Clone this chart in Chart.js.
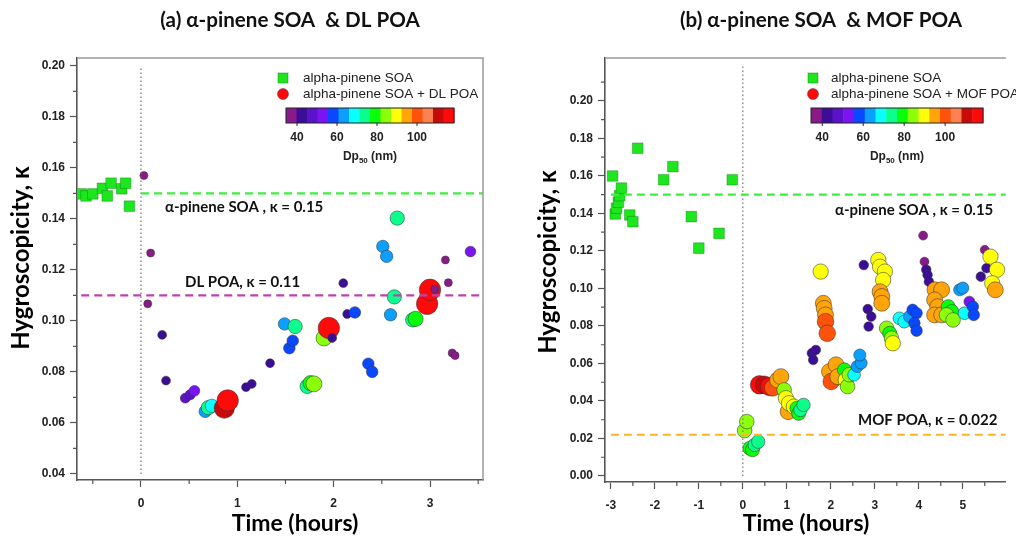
<!DOCTYPE html>
<html>
<head>
<meta charset="utf-8">
<script src="https://cdn.jsdelivr.net/npm/chart.js@4.4.0/dist/chart.umd.min.js"></script>
<style>
  html, body { margin: 0; padding: 0; background: #fff; }
  #wrap { position: relative; width: 1016px; height: 539px; overflow: hidden; }
  .panel { position: absolute; top: 0; width: 508px; height: 539px; }
</style>
</head>
<body>
<div id="wrap">
  <div class="panel" style="left:0"><canvas id="chartA" width="508" height="539"></canvas></div>
  <div class="panel" style="left:508px"><canvas id="chartB" width="508" height="539"></canvas></div>
</div>
<script>
// ─── COLOUR SCALE (Dp50, nm) ─────────────────────────
const dpPalette = ['#8a1a8a', '#3c0e98', '#5c12c8', '#7a14f2', '#0a48ff', '#0aa0ff', '#0affff', '#0aff8c',
                   '#0aff0a', '#8cff0a', '#ffff0a', '#ffa50a', '#ff520a', '#ff8050', '#c80a0a', '#ff0a0a'];
const dpMin = 34.5;
const dpMax = 118.5;
const dpTicks = [40, 60, 80, 100];

// ─── PANEL (a): alpha-pinene SOA & DL POA ────────────
const aSoaTime  = [-0.62, -0.57, -0.50, -0.40, -0.35, -0.31, -0.20, -0.16, -0.12];
const aSoaKappa = [0.1498, 0.1490, 0.1498, 0.1520, 0.1490, 0.1540, 0.1518, 0.1540, 0.1450];

const aMixTime  = [0.03, 0.10, 0.07, 0.22, 0.26, 0.46, 0.51, 0.555, 0.667, 0.70, 0.735, 0.865, 0.90,
                   1.09, 1.15, 1.34, 1.54, 1.575, 1.49, 1.60, 1.725, 1.76, 1.795, 1.90, 1.95, 1.985,
                   2.10, 2.14, 2.22, 2.36, 2.40, 2.51, 2.55, 2.66, 2.59, 2.63, 2.82, 2.85, 2.97, 3.00,
                   3.05, 3.16, 3.19, 3.23, 3.26, 3.42];
const aMixKappa = [0.1570, 0.1266, 0.1067, 0.0945, 0.0766, 0.0697, 0.0710, 0.0726, 0.0645, 0.0660, 0.0667, 0.0658, 0.0688,
                   0.0740, 0.0753, 0.0834, 0.0893, 0.0922, 0.0988, 0.0978, 0.0743, 0.0756, 0.0753, 0.0933, 0.0972, 0.0933,
                   0.1148, 0.1027, 0.1033, 0.0832, 0.0800, 0.1292, 0.1253, 0.1403, 0.1024, 0.1094, 0.1004, 0.1008, 0.1067, 0.1122,
                   0.1124, 0.1239, 0.1150, 0.0874, 0.0864, 0.1272];
const aMixDp    = [37, 37, 37, 42, 42, 48, 50, 53, 63, 74, 68, 110, 116,
                   42, 42, 42, 58, 58, 63, 74, 74, 79, 84, 84, 116, 42,
                   42, 42, 58, 58, 58, 63, 63, 74, 63, 74, 74, 79, 116, 116,
                   37, 37, 37, 37, 37, 53];

const aXTicks = [0, 1, 2, 3];
const aXMinor = [-0.5, 0.5, 1.5, 2.5, 3.5];
const aYTicks = [0.04, 0.06, 0.08, 0.10, 0.12, 0.14, 0.16, 0.18, 0.20];
const aYMinor = [0.05, 0.07, 0.09, 0.11, 0.13, 0.15, 0.17, 0.19];

// ─── PANEL (b): alpha-pinene SOA & MOF POA ───────────
const bSoaTime  = [-2.96, -2.90, -2.87, -2.83, -2.80, -2.76, -2.57, -2.50, -2.39, -1.80, -1.59, -1.17, -1.00, -0.54, -0.24];
const bSoaKappa = [0.1600, 0.1397, 0.1428, 0.1460, 0.1495, 0.1535, 0.1392, 0.1356, 0.1748, 0.1580, 0.1650, 0.1383, 0.1215, 0.1294, 0.1580];

const bMixTime  = [0.04, 0.09, 0.16, 0.22, 0.27, 0.35, 0.38, 0.49, 0.61, 0.68, 0.79, 0.865, 0.94, 0.98, 1.03, 1.05,
                   1.16, 1.23, 1.27, 1.31, 1.38, 1.57, 1.66, 1.60, 1.77, 1.83, 1.85, 1.88, 1.88, 1.92,
                   1.97, 2.01, 2.12, 2.16, 2.31, 2.34, 2.38, 2.42, 2.53, 2.60, 2.69, 2.66,
                   2.75, 2.84, 2.92, 2.86, 3.08, 3.12, 3.23, 3.19, 3.12, 3.16, 3.16, 3.27, 3.34, 3.38, 3.41,
                   3.56, 3.67, 3.79, 3.86, 3.95, 3.90, 3.95, 4.10, 4.13, 4.17, 4.20, 4.23,
                   4.37, 4.52, 4.36, 4.43, 4.36, 4.52, 4.67, 4.75, 4.63, 4.78,
                   4.93, 5.00, 5.04, 5.15, 5.23, 5.25, 5.50, 5.54, 5.41, 5.63, 5.78, 5.67, 5.74];
const bMixKappa = [0.0242, 0.0290, 0.0148, 0.0140, 0.0166, 0.0183, 0.0486, 0.0486, 0.0477, 0.0470, 0.0512, 0.0530, 0.0459, 0.0415, 0.0343, 0.0388,
                   0.0370, 0.0361, 0.0334, 0.0352, 0.0379, 0.0655, 0.0672, 0.0619, 0.1090, 0.0921, 0.0894, 0.0859, 0.0823, 0.0761,
                   0.0557, 0.0504, 0.0593, 0.0530, 0.0566, 0.0512, 0.0477, 0.0540, 0.0540, 0.0584, 0.0602, 0.0645,
                   0.1125, 0.0890, 0.0850, 0.0797, 0.1152, 0.1116, 0.1090, 0.1045, 0.0983, 0.0957, 0.0921, 0.0788, 0.0761, 0.0735, 0.0708,
                   0.0841, 0.0823, 0.0850, 0.0886, 0.0868, 0.0815, 0.0775, 0.1282, 0.1143, 0.1100, 0.1072, 0.1036,
                   0.0993, 0.0993, 0.0939, 0.0903, 0.0859, 0.0859, 0.0903, 0.0877, 0.0859, 0.0832,
                   0.0993, 0.1002, 0.0868, 0.0930, 0.0903, 0.0859, 0.1206, 0.1108, 0.1063, 0.1170, 0.1100, 0.1028, 0.0993];
const bMixDp    = [84, 84, 79, 79, 74, 74, 116, 110, 116, 100, 95, 95, 84, 90, 95, 90,
                   90, 79, 79, 74, 74, 42, 42, 42, 90, 95, 95, 95, 100, 100,
                   95, 100, 95, 95, 79, 90, 84, 84, 68, 63, 63, 63,
                   42, 42, 42, 42, 90, 90, 90, 90, 95, 95, 95, 84, 79, 84, 90,
                   68, 68, 63, 58, 58, 58, 58, 37, 37, 42, 42, 42,
                   95, 95, 95, 95, 95, 95, 79, 79, 84, 84,
                   63, 63, 68, 53, 58, 58, 37, 42, 42, 90, 90, 90, 95];

const bXTicks = [-3, -2, -1, 0, 1, 2, 3, 4, 5];
const bXMinor = [-2.5, -1.5, -0.5, 0.5, 1.5, 2.5, 3.5, 4.5, 5.5];
const bYTicks = [0.00, 0.02, 0.04, 0.06, 0.08, 0.10, 0.12, 0.14, 0.16, 0.18, 0.20];
const bYMinor = [0.01, 0.03, 0.05, 0.07, 0.09, 0.11, 0.13, 0.15, 0.17, 0.19, 0.21];

// ─── HELPERS ─────────────────────────────────────────
const TITLE_FONT = "Lato, 'Open Sans', 'DejaVu Sans', sans-serif";
const TICK_FONT  = "'Liberation Sans', Arial, sans-serif";

function dpColor(dp) {
  const step = (dpMax - dpMin) / dpPalette.length;
  const i = Math.max(0, Math.min(dpPalette.length - 1, Math.floor((dp - dpMin) / step)));
  return dpPalette[i];
}

function toPoints(xs, ys) {
  return xs.map((x, i) => ({ x: x, y: ys[i] }));
}

// decorations: frame, minor ticks, titles, notes and colour-bar legend
function makeDecor(deco) {
  return {
    id: 'panelDecor',
    afterDatasetsDraw(chart) {
      const { ctx, chartArea: a, scales: { x, y } } = chart;
      ctx.save();
      ctx.strokeStyle = '#999';
      ctx.lineWidth = 1.5;
      ctx.beginPath();
      ctx.moveTo(a.left, a.top);
      ctx.lineTo(a.right, a.top);
      if (deco.frameRight) ctx.lineTo(a.right, a.bottom);
      ctx.stroke();

      ctx.strokeStyle = '#555';
      ctx.lineWidth = 1.2;
      ctx.beginPath();
      deco.xMinor.forEach(v => {
        const px = x.getPixelForValue(v);
        ctx.moveTo(px, a.bottom);
        ctx.lineTo(px, a.bottom + 4);
      });
      deco.yMinor.forEach(v => {
        const py = y.getPixelForValue(v);
        ctx.moveTo(a.left - 4, py);
        ctx.lineTo(a.left, py);
      });
      ctx.stroke();
      ctx.restore();
    },
    afterDraw(chart) {
      const ctx = chart.ctx;
      ctx.save();
      ctx.fillStyle = '#111';
      ctx.textBaseline = 'middle';

      // panel title
      ctx.font = `bold 20.6px ${TITLE_FONT}`;
      ctx.textAlign = 'center';
      ctx.fillText(deco.title.text, deco.title.x, deco.title.y);

      // axis titles
      ctx.fillStyle = '#000';
      ctx.font = `bold 23px ${TITLE_FONT}`;
      ctx.fillText('Time (hours)', deco.xTitle.x, deco.xTitle.y);
      ctx.save();
      ctx.translate(deco.yTitle.x, deco.yTitle.y);
      ctx.rotate(-Math.PI / 2);
      ctx.font = `bold 24px ${TITLE_FONT}`;
      ctx.fillText('Hygroscopicity, κ', 0, 0);
      ctx.restore();

      // reference line notes
      ctx.fillStyle = '#111';
      ctx.font = `bold 15px ${TITLE_FONT}`;
      ctx.textAlign = 'left';
      deco.notes.forEach(n => ctx.fillText(n.text, n.x, n.y));

      // legend symbols
      const L = deco.legend;
      ctx.fillStyle = '#1ee61e';
      ctx.strokeStyle = 'rgba(0,110,0,0.5)';
      ctx.lineWidth = 0.8;
      ctx.fillRect(L.x - 5, L.y - 5, 10, 10);
      ctx.strokeRect(L.x - 5, L.y - 5, 10, 10);
      ctx.beginPath();
      ctx.arc(L.x, L.y + 16, 5.5, 0, Math.PI * 2);
      ctx.fillStyle = '#ff0a0a';
      ctx.fill();
      ctx.strokeStyle = 'rgba(60,60,60,0.6)';
      ctx.stroke();

      ctx.fillStyle = '#222';
      ctx.font = `13.5px ${TICK_FONT}`;
      ctx.fillText('alpha-pinene SOA', L.textX, L.y);
      ctx.fillText(L.mixLabel, L.textX, L.y + 16);

      // colour bar
      const segW = L.barW / dpPalette.length;
      dpPalette.forEach((c, i) => {
        ctx.fillStyle = c;
        ctx.fillRect(L.barX + i * segW, L.barY, segW + 0.5, L.barH);
      });
      ctx.strokeStyle = '#222';
      ctx.lineWidth = 1;
      ctx.strokeRect(L.barX, L.barY, L.barW, L.barH);

      ctx.fillStyle = '#222';
      ctx.font = `bold 12px ${TICK_FONT}`;
      ctx.textAlign = 'center';
      ctx.beginPath();
      dpTicks.forEach(v => {
        const px = L.barX + (v - dpMin) / (dpMax - dpMin) * L.barW;
        ctx.moveTo(px, L.barY + L.barH);
        ctx.lineTo(px, L.barY + L.barH + 3);
        ctx.fillText(String(v), px, L.barY + L.barH + 15);
      });
      ctx.stroke();

      // Dp50 (nm) with subscript
      const cx = L.barX + L.barW / 2;
      const ly = L.barY + L.barH + 34;
      ctx.textAlign = 'left';
      ctx.font = `bold 12px ${TICK_FONT}`;
      const w1 = ctx.measureText('Dp').width;
      const w3 = ctx.measureText(' (nm)').width;
      ctx.font = `bold 8px ${TICK_FONT}`;
      const w2 = ctx.measureText('50').width;
      const sx = cx - (w1 + w2 + w3) / 2;
      ctx.font = `bold 12px ${TICK_FONT}`;
      ctx.fillText('Dp', sx, ly);
      ctx.font = `bold 8px ${TICK_FONT}`;
      ctx.fillText('50', sx + w1, ly + 4);
      ctx.font = `bold 12px ${TICK_FONT}`;
      ctx.fillText(' (nm)', sx + w1 + w2, ly);
      ctx.restore();
    }
  };
}

function refLine(xs, ys, color, dash, width) {
  return {
    type: 'line',
    data: toPoints(xs, ys),
    borderColor: color,
    borderDash: dash,
    borderWidth: width,
    pointRadius: 0,
    fill: false,
    order: 0,
  };
}

function makePanel(id, p) {
  const tickFont = { family: TICK_FONT, weight: 'bold', size: 12 };

  return new Chart(document.getElementById(id), {
    type: 'scatter',
    data: {
      datasets: p.refs.concat([
        {
          label: 'alpha-pinene SOA',
          data: toPoints(p.soaTime, p.soaKappa),
          pointStyle: 'rect',
          pointRadius: 7.5,
          backgroundColor: '#1ee61e',
          borderColor: 'rgba(0,110,0,0.45)',
          borderWidth: 0.8,
          order: 1,
        },
        {
          label: p.mixLabel,
          data: toPoints(p.mixTime, p.mixKappa),
          pointRadius: ctx => p.size(p.mixDp[ctx.dataIndex]),
          backgroundColor: ctx => dpColor(p.mixDp[ctx.dataIndex]),
          borderColor: 'rgba(50,50,50,0.6)',
          borderWidth: 0.9,
          order: 2,
        },
      ]),
    },
    options: {
      responsive: false,
      animation: false,
      events: [],
      layout: { padding: { top: 58, right: p.padRight, left: 0, bottom: 0 } },
      plugins: { legend: { display: false }, tooltip: { enabled: false } },
      scales: {
        x: {
          type: 'linear',
          min: p.xMin,
          max: p.xMax,
          afterBuildTicks: s => { s.ticks = p.xTicks.map(v => ({ value: v })); },
          afterFit: s => { s.height = p.xAxisHeight; },
          ticks: { color: '#222', font: tickFont, padding: 9, maxRotation: 0, callback: v => String(v) },
          grid: { drawOnChartArea: false, tickLength: 7, tickColor: '#555', tickWidth: 1.2 },
          border: { color: '#555', width: 1.6 },
        },
        y: {
          type: 'linear',
          min: p.yMin,
          max: p.yMax,
          afterBuildTicks: s => { s.ticks = p.yTicks.map(v => ({ value: v })); },
          afterFit: s => { s.width = p.yAxisWidth; },
          ticks: { color: '#222', font: tickFont, padding: 5, callback: v => v.toFixed(2) },
          grid: { drawOnChartArea: false, tickLength: 7, tickColor: '#555', tickWidth: 1.2 },
          border: { color: '#555', width: 1.6 },
        },
      },
    },
    plugins: [makeDecor(p.deco)],
  });
}

// ─── BUILD PANELS ────────────────────────────────────
const aXMin = -0.664, aXMax = 3.55;
makePanel('chartA', {
  soaTime: aSoaTime, soaKappa: aSoaKappa,
  mixTime: aMixTime, mixKappa: aMixKappa, mixDp: aMixDp,
  mixLabel: 'alpha-pinene SOA + DL POA',
  size: dp => 4 + (dp - 37) * 0.085,
  xMin: aXMin, xMax: aXMax, yMin: 0.0376, yMax: 0.2031,
  xTicks: aXTicks, yTicks: aYTicks,
  padRight: 25, yAxisWidth: 77, xAxisHeight: 59,
  refs: [
    refLine([0, aXMax], [0.15, 0.15], '#3bef3b', [8, 5], 2.2),
    refLine([-0.62, aXMax], [0.11, 0.11], '#c040b4', [8, 5], 2.2),
    refLine([0, 0], [0.04, 0.20], '#777', [1.5, 2.5], 1.2),
  ],
  deco: {
    frameRight: true,
    xMinor: aXMinor, yMinor: aYMinor,
    title: { text: '(a) α-pinene SOA  & DL POA', x: 290, y: 20 },
    xTitle: { x: 295, y: 524 },
    yTitle: { x: 21, y: 258 },
    notes: [
      { text: 'α-pinene SOA , κ = 0.15', x: 165, y: 207 },
      { text: 'DL POA, κ = 0.11', x: 185, y: 282 },
    ],
    legend: { x: 283, y: 78, textX: 303, mixLabel: 'alpha-pinene SOA + DL POA',
              barX: 286, barY: 108, barW: 168, barH: 15 },
  },
});

const bXMin = -3.133, bXMax = 5.98;
makePanel('chartB', {
  soaTime: bSoaTime, soaKappa: bSoaKappa,
  mixTime: bMixTime, mixKappa: bMixKappa, mixDp: bMixDp,
  mixLabel: 'alpha-pinene SOA + MOF POA',
  size: dp => 4.5 + (dp - 37) * 0.06,
  xMin: bXMin, xMax: bXMax, yMin: -0.0032, yMax: 0.2229,
  xTicks: bXTicks, yTicks: bYTicks,
  padRight: 0, yAxisWidth: 97, xAxisHeight: 57,
  refs: [
    refLine([-3, bXMax], [0.15, 0.15], '#3bef3b', [8, 5], 2.2),
    refLine([-3, bXMax], [0.022, 0.022], '#ffb428', [8, 5], 2.2),
    refLine([0, 0], [0.0, 0.219], '#777', [1.5, 2.5], 1.2),
  ],
  deco: {
    frameRight: false,
    xMinor: bXMinor, yMinor: bYMinor,
    title: { text: '(b) α-pinene SOA  & MOF POA', x: 313, y: 20 },
    xTitle: { x: 298, y: 524 },
    yTitle: { x: 40, y: 262 },
    notes: [
      { text: 'α-pinene SOA , κ = 0.15', x: 327, y: 210 },
      { text: 'MOF POA, κ = 0.022', x: 350, y: 420 },
    ],
    legend: { x: 305, y: 78, textX: 323, mixLabel: 'alpha-pinene SOA + MOF POA',
              barX: 303, barY: 108, barW: 172, barH: 15 },
  },
});
</script>
</body>
</html>
